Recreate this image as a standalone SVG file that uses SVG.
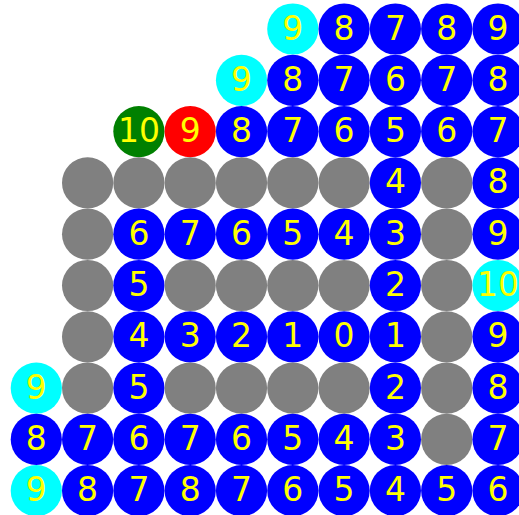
<svg xmlns="http://www.w3.org/2000/svg" width="519" height="515" viewBox="0 0 519 515">
<style>
circle{stroke:none}
.b{fill:#0000ff}.c{fill:#00ffff}.g{fill:#008000}.r{fill:#ff0000}.k{fill:#808080}
text{font-family:"DejaVu Sans",sans-serif;font-size:33px;fill:#ffff00;text-anchor:middle}
</style>
<rect width="519" height="515" fill="#ffffff"/>
<g id="connectors"/>
<g id="nodes">
<g id="n0_5"><circle class="c" cx="292.8" cy="29" r="25.6"/><text x="292.8" y="39.5">9</text></g>
<g id="n0_6"><circle class="b" cx="344.1" cy="29" r="25.6"/><text x="344.1" y="39.5">8</text></g>
<g id="n0_7"><circle class="b" cx="395.4" cy="29" r="25.6"/><text x="395.4" y="39.5">7</text></g>
<g id="n0_8"><circle class="b" cx="446.7" cy="29" r="25.6"/><text x="446.7" y="39.5">8</text></g>
<g id="n0_9"><circle class="b" cx="498" cy="29" r="25.6"/><text x="498" y="39.5">9</text></g>

<g id="n1_4"><circle class="c" cx="241.5" cy="80.3" r="25.6"/><text x="241.5" y="90.8">9</text></g>
<g id="n1_5"><circle class="b" cx="292.8" cy="80.3" r="25.6"/><text x="292.8" y="90.8">8</text></g>
<g id="n1_6"><circle class="b" cx="344.1" cy="80.3" r="25.6"/><text x="344.1" y="90.8">7</text></g>
<g id="n1_7"><circle class="b" cx="395.4" cy="80.3" r="25.6"/><text x="395.4" y="90.8">6</text></g>
<g id="n1_8"><circle class="b" cx="446.7" cy="80.3" r="25.6"/><text x="446.7" y="90.8">7</text></g>
<g id="n1_9"><circle class="b" cx="498" cy="80.3" r="25.6"/><text x="498" y="90.8">8</text></g>

<g id="n2_2"><circle class="g" cx="138.9" cy="131.6" r="25.6"/><text x="138.9" y="142.1">10</text></g>
<g id="n2_3"><circle class="r" cx="190.2" cy="131.6" r="25.6"/><text x="190.2" y="142.1">9</text></g>
<g id="n2_4"><circle class="b" cx="241.5" cy="131.6" r="25.6"/><text x="241.5" y="142.1">8</text></g>
<g id="n2_5"><circle class="b" cx="292.8" cy="131.6" r="25.6"/><text x="292.8" y="142.1">7</text></g>
<g id="n2_6"><circle class="b" cx="344.1" cy="131.6" r="25.6"/><text x="344.1" y="142.1">6</text></g>
<g id="n2_7"><circle class="b" cx="395.4" cy="131.6" r="25.6"/><text x="395.4" y="142.1">5</text></g>
<g id="n2_8"><circle class="b" cx="446.7" cy="131.6" r="25.6"/><text x="446.7" y="142.1">6</text></g>
<g id="n2_9"><circle class="b" cx="498" cy="131.6" r="25.6"/><text x="498" y="142.1">7</text></g>

<g id="n3_1"><circle class="k" cx="87.6" cy="182.9" r="25.6"/></g>
<g id="n3_2"><circle class="k" cx="138.9" cy="182.9" r="25.6"/></g>
<g id="n3_3"><circle class="k" cx="190.2" cy="182.9" r="25.6"/></g>
<g id="n3_4"><circle class="k" cx="241.5" cy="182.9" r="25.6"/></g>
<g id="n3_5"><circle class="k" cx="292.8" cy="182.9" r="25.6"/></g>
<g id="n3_6"><circle class="k" cx="344.1" cy="182.9" r="25.6"/></g>
<g id="n3_7"><circle class="b" cx="395.4" cy="182.9" r="25.6"/><text x="395.4" y="193.4">4</text></g>
<g id="n3_8"><circle class="k" cx="446.7" cy="182.9" r="25.6"/></g>
<g id="n3_9"><circle class="b" cx="498" cy="182.9" r="25.6"/><text x="498" y="193.4">8</text></g>

<g id="n4_1"><circle class="k" cx="87.6" cy="234.2" r="25.6"/></g>
<g id="n4_2"><circle class="b" cx="138.9" cy="234.2" r="25.6"/><text x="138.9" y="244.7">6</text></g>
<g id="n4_3"><circle class="b" cx="190.2" cy="234.2" r="25.6"/><text x="190.2" y="244.7">7</text></g>
<g id="n4_4"><circle class="b" cx="241.5" cy="234.2" r="25.6"/><text x="241.5" y="244.7">6</text></g>
<g id="n4_5"><circle class="b" cx="292.8" cy="234.2" r="25.6"/><text x="292.8" y="244.7">5</text></g>
<g id="n4_6"><circle class="b" cx="344.1" cy="234.2" r="25.6"/><text x="344.1" y="244.7">4</text></g>
<g id="n4_7"><circle class="b" cx="395.4" cy="234.2" r="25.6"/><text x="395.4" y="244.7">3</text></g>
<g id="n4_8"><circle class="k" cx="446.7" cy="234.2" r="25.6"/></g>
<g id="n4_9"><circle class="b" cx="498" cy="234.2" r="25.6"/><text x="498" y="244.7">9</text></g>

<g id="n5_1"><circle class="k" cx="87.6" cy="285.5" r="25.6"/></g>
<g id="n5_2"><circle class="b" cx="138.9" cy="285.5" r="25.6"/><text x="138.9" y="296">5</text></g>
<g id="n5_3"><circle class="k" cx="190.2" cy="285.5" r="25.6"/></g>
<g id="n5_4"><circle class="k" cx="241.5" cy="285.5" r="25.6"/></g>
<g id="n5_5"><circle class="k" cx="292.8" cy="285.5" r="25.6"/></g>
<g id="n5_6"><circle class="k" cx="344.1" cy="285.5" r="25.6"/></g>
<g id="n5_7"><circle class="b" cx="395.4" cy="285.5" r="25.6"/><text x="395.4" y="296">2</text></g>
<g id="n5_8"><circle class="k" cx="446.7" cy="285.5" r="25.6"/></g>
<g id="n5_9"><circle class="c" cx="498" cy="285.5" r="25.6"/><text x="498" y="296">10</text></g>

<g id="n6_1"><circle class="k" cx="87.6" cy="336.8" r="25.6"/></g>
<g id="n6_2"><circle class="b" cx="138.9" cy="336.8" r="25.6"/><text x="138.9" y="347.3">4</text></g>
<g id="n6_3"><circle class="b" cx="190.2" cy="336.8" r="25.6"/><text x="190.2" y="347.3">3</text></g>
<g id="n6_4"><circle class="b" cx="241.5" cy="336.8" r="25.6"/><text x="241.5" y="347.3">2</text></g>
<g id="n6_5"><circle class="b" cx="292.8" cy="336.8" r="25.6"/><text x="292.8" y="347.3">1</text></g>
<g id="n6_6"><circle class="b" cx="344.1" cy="336.8" r="25.6"/><text x="344.1" y="347.3">0</text></g>
<g id="n6_7"><circle class="b" cx="395.4" cy="336.8" r="25.6"/><text x="395.4" y="347.3">1</text></g>
<g id="n6_8"><circle class="k" cx="446.7" cy="336.8" r="25.6"/></g>
<g id="n6_9"><circle class="b" cx="498" cy="336.8" r="25.6"/><text x="498" y="347.3">9</text></g>

<g id="n7_0"><circle class="c" cx="36.3" cy="388.1" r="25.6"/><text x="36.3" y="398.6">9</text></g>
<g id="n7_1"><circle class="k" cx="87.6" cy="388.1" r="25.6"/></g>
<g id="n7_2"><circle class="b" cx="138.9" cy="388.1" r="25.6"/><text x="138.9" y="398.6">5</text></g>
<g id="n7_3"><circle class="k" cx="190.2" cy="388.1" r="25.6"/></g>
<g id="n7_4"><circle class="k" cx="241.5" cy="388.1" r="25.6"/></g>
<g id="n7_5"><circle class="k" cx="292.8" cy="388.1" r="25.6"/></g>
<g id="n7_6"><circle class="k" cx="344.1" cy="388.1" r="25.6"/></g>
<g id="n7_7"><circle class="b" cx="395.4" cy="388.1" r="25.6"/><text x="395.4" y="398.6">2</text></g>
<g id="n7_8"><circle class="k" cx="446.7" cy="388.1" r="25.6"/></g>
<g id="n7_9"><circle class="b" cx="498" cy="388.1" r="25.6"/><text x="498" y="398.6">8</text></g>

<g id="n8_0"><circle class="b" cx="36.3" cy="439.4" r="25.6"/><text x="36.3" y="449.9">8</text></g>
<g id="n8_1"><circle class="b" cx="87.6" cy="439.4" r="25.6"/><text x="87.6" y="449.9">7</text></g>
<g id="n8_2"><circle class="b" cx="138.9" cy="439.4" r="25.6"/><text x="138.9" y="449.9">6</text></g>
<g id="n8_3"><circle class="b" cx="190.2" cy="439.4" r="25.6"/><text x="190.2" y="449.9">7</text></g>
<g id="n8_4"><circle class="b" cx="241.5" cy="439.4" r="25.6"/><text x="241.5" y="449.9">6</text></g>
<g id="n8_5"><circle class="b" cx="292.8" cy="439.4" r="25.6"/><text x="292.8" y="449.9">5</text></g>
<g id="n8_6"><circle class="b" cx="344.1" cy="439.4" r="25.6"/><text x="344.1" y="449.9">4</text></g>
<g id="n8_7"><circle class="b" cx="395.4" cy="439.4" r="25.6"/><text x="395.4" y="449.9">3</text></g>
<g id="n8_8"><circle class="k" cx="446.7" cy="439.4" r="25.6"/></g>
<g id="n8_9"><circle class="b" cx="498" cy="439.4" r="25.6"/><text x="498" y="449.9">7</text></g>

<g id="n9_0"><circle class="c" cx="36.3" cy="490.7" r="25.6"/><text x="36.3" y="501.2">9</text></g>
<g id="n9_1"><circle class="b" cx="87.6" cy="490.7" r="25.6"/><text x="87.6" y="501.2">8</text></g>
<g id="n9_2"><circle class="b" cx="138.9" cy="490.7" r="25.6"/><text x="138.9" y="501.2">7</text></g>
<g id="n9_3"><circle class="b" cx="190.2" cy="490.7" r="25.6"/><text x="190.2" y="501.2">8</text></g>
<g id="n9_4"><circle class="b" cx="241.5" cy="490.7" r="25.6"/><text x="241.5" y="501.2">7</text></g>
<g id="n9_5"><circle class="b" cx="292.8" cy="490.7" r="25.6"/><text x="292.8" y="501.2">6</text></g>
<g id="n9_6"><circle class="b" cx="344.1" cy="490.7" r="25.6"/><text x="344.1" y="501.2">5</text></g>
<g id="n9_7"><circle class="b" cx="395.4" cy="490.7" r="25.6"/><text x="395.4" y="501.2">4</text></g>
<g id="n9_8"><circle class="b" cx="446.7" cy="490.7" r="25.6"/><text x="446.7" y="501.2">5</text></g>
<g id="n9_9"><circle class="b" cx="498" cy="490.7" r="25.6"/><text x="498" y="501.2">6</text></g>
</g>
</svg>
